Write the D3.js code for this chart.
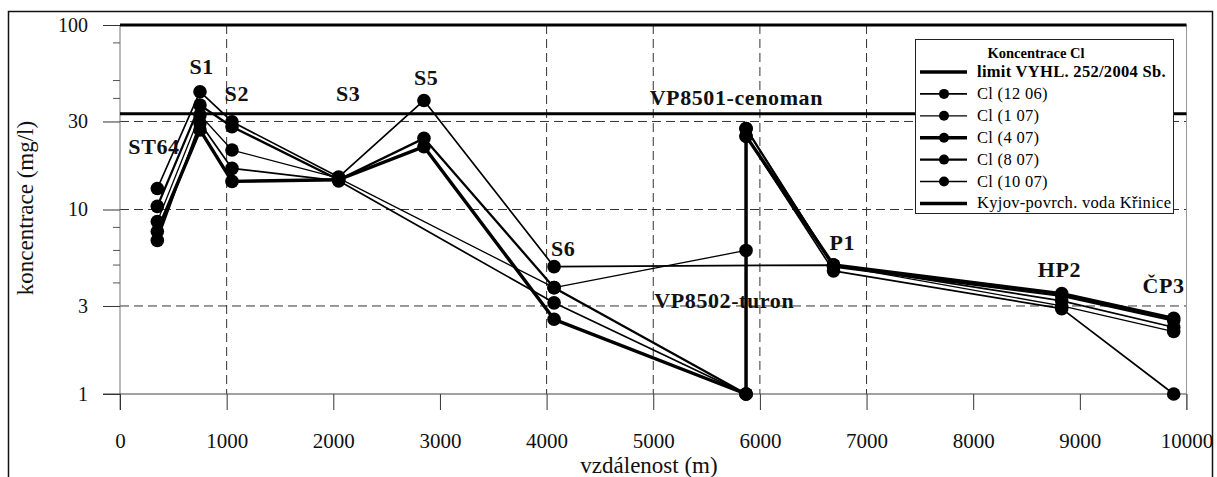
<!DOCTYPE html>
<html>
<head>
<meta charset="utf-8">
<script src="https://cdn.jsdelivr.net/npm/d3@7"></script>
<style>
  body { margin: 0; background: #fff; }
  svg { display: block; }
  svg text { font-family: "Liberation Serif", "Times New Roman", serif; }
</style>
</head>
<body>
<div id="chart"></div>
<script>
// sampling points along the profile
const stations = ['ST64', 'S1', 'S2', 'S3', 'S5', 'S6', 'VP8502-turon', 'VP8501-cenoman', 'P1', 'HP2', 'ČP3'];
const distances = [350, 750, 1050, 2050, 2850, 4070, 5870, 5870, 6690, 8830, 9880];

// Cl concentrations (mg/l), null = not sampled
const cl1206 = [13.0, 43.5, 29.9, 15.0, 39.0, 4.9, null, null, 5.0, 3.2, 2.3];
const cl0107 = [8.6, 32.5, 21.0, 14.8, null, 3.77, 6.0, 27.5, 5.0, 3.0, 2.18];
const cl0407 = [7.6, 27.0, 14.2, 14.5, 21.9, 2.54, 1.0, 25.0, 5.0, 3.5, 2.57];
const cl0807 = [10.4, 36.8, 28.1, 14.5, 24.3, 3.77, 1.0, 27.5, 4.9, 3.4, 2.5];
const cl1007 = [6.8, 29.4, 16.7, 14.3, null, 3.12, 1.0, 25.0, 4.65, 2.9, 1.0];

const seriesNames = ['Cl (12 06)', 'Cl (1 07)', 'Cl (4 07)', 'Cl (8 07)', 'Cl (10 07)'];
const seriesValues = [cl1206, cl0107, cl0407, cl0807, cl1007];

// reference levels
const limitVyhl = 100;
const kyjovKrinice = 33;

// axes
const xTicks = [0, 1000, 2000, 3000, 4000, 5000, 6000, 7000, 8000, 9000, 10000];
const xGrid = [1000, 4000, 5000, 6000, 7000];
const yTicks = [1, 3, 10, 30, 100];
const yMinorTicks = [4, 5, 6, 8, 40, 50, 80];
const yGrid = [3, 10, 30];

// station labels, anchored in data units
const labels = [
  { text: 'ST64', d: 319, v: 20.0 },
  { text: 'S1', d: 766, v: 54.2 },
  { text: 'S2', d: 1095, v: 38.7 },
  { text: 'S3', d: 2139, v: 38.7 },
  { text: 'S5', d: 2871, v: 47.3 },
  { text: 'VP8501-cenoman', d: 5779, v: 36.8 },
  { text: 'S6', d: 4156, v: 5.6 },
  { text: 'VP8502-turon', d: 5666, v: 2.92 },
  { text: 'P1', d: 6773, v: 6.03 },
  { text: 'HP2', d: 8809, v: 4.31 },
  { text: 'ČP3', d: 9784, v: 3.53 },
];

const width = 1217;
const height = 477;
const lineWidths = [1.7, 1.3, 3.4, 2.3, 1.7];

const svg = d3.select('#chart').append('svg')
  .attr('width', width)
  .attr('height', height);

const x = d3.scaleLinear().domain([0, 10000]).range([120, 1186.5]);
const y = d3.scaleLog().domain([1, 100]).range([394, 25]);

// outer frame
svg.append('rect')
  .attr('x', 8.5).attr('y', 11.5)
  .attr('width', 1204).attr('height', 500)
  .attr('fill', 'none')
  .attr('stroke', '#111')
  .attr('stroke-width', 1.5);

// grid
svg.append('g').selectAll('line')
  .data(yGrid)
  .join('line')
  .attr('x1', x(0)).attr('x2', x(10000))
  .attr('y1', (d) => y(d)).attr('y2', (d) => y(d))
  .attr('stroke', '#333')
  .attr('stroke-dasharray', '9,5');

svg.append('g').selectAll('line')
  .data(xGrid)
  .join('line')
  .attr('x1', (d) => x(d)).attr('x2', (d) => x(d))
  .attr('y1', y(100)).attr('y2', y(1))
  .attr('stroke', '#333')
  .attr('stroke-dasharray', '9,5');

// plot edges
svg.append('line')
  .attr('x1', x(0)).attr('x2', x(0))
  .attr('y1', y(100)).attr('y2', y(1) + 16)
  .attr('stroke', '#777');
svg.append('line')
  .attr('x1', x(10000)).attr('x2', x(10000))
  .attr('y1', y(100)).attr('y2', y(1) + 16)
  .attr('stroke', '#999');

// x axis
const xAxis = d3.axisBottom(x).tickValues(xTicks).tickSize(16).tickPadding(23).tickFormat(d3.format('d'));
const gx = svg.append('g')
  .attr('transform', `translate(0,${y(1)})`)
  .call(xAxis)
  .attr('font-family', null);
gx.select('.domain').remove();
gx.selectAll('line').attr('stroke', '#333');
gx.selectAll('text').attr('font-size', 21).attr('fill', '#111');

svg.append('line')
  .attr('x1', x(0) - 17).attr('x2', x(10000))
  .attr('y1', y(1)).attr('y2', y(1))
  .attr('stroke', '#444')
  .attr('stroke-width', 1.2);

// y axis
const yAxis = d3.axisLeft(y).tickValues(yTicks).tickSize(17).tickPadding(15).tickFormat(d3.format('d'));
const gy = svg.append('g')
  .attr('transform', `translate(${x(0)},0)`)
  .call(yAxis)
  .attr('font-family', null);
gy.select('.domain').remove();
gy.selectAll('line').attr('stroke', '#333');
gy.selectAll('text').attr('font-size', 20).attr('fill', '#111');

svg.append('g').selectAll('line')
  .data(yMinorTicks)
  .join('line')
  .attr('x1', x(0) - 7).attr('x2', x(0))
  .attr('y1', (d) => y(d)).attr('y2', (d) => y(d))
  .attr('stroke', '#555');

// axis titles
svg.append('text')
  .attr('x', 649).attr('y', 473)
  .attr('text-anchor', 'middle')
  .attr('font-size', 23)
  .attr('fill', '#111')
  .text('vzdálenost (m)');

svg.append('text')
  .attr('transform', 'translate(33,208) rotate(-90)')
  .attr('text-anchor', 'middle')
  .attr('font-size', 23)
  .attr('fill', '#111')
  .text('koncentrace (mg/l)');

// reference lines
[limitVyhl, kyjovKrinice].forEach((v) => {
  svg.append('line')
    .attr('x1', x(0)).attr('x2', x(10000))
    .attr('y1', y(v)).attr('y2', y(v))
    .attr('stroke', '#000')
    .attr('stroke-width', 3);
});

// series
const line = d3.line()
  .x((d) => x(d.d))
  .y((d) => y(d.v));

const series = seriesValues.map((vals, i) => ({
  name: seriesNames[i],
  width: lineWidths[i],
  points: vals.map((v, j) => ({ d: distances[j], v, station: stations[j] })).filter((p) => p.v !== null),
}));

const gs = svg.append('g');
series.forEach((s) => {
  gs.append('path')
    .attr('d', line(s.points))
    .attr('fill', 'none')
    .attr('stroke', '#000')
    .attr('stroke-width', s.width)
    .attr('stroke-linejoin', 'round');
});
series.forEach((s) => {
  gs.selectAll(null)
    .data(s.points)
    .join('circle')
    .attr('cx', (d) => x(d.d))
    .attr('cy', (d) => y(d.v))
    .attr('r', 6.8)
    .attr('fill', '#000');
});

// station labels
svg.append('g').selectAll('text')
  .data(labels)
  .join('text')
  .attr('x', (d) => x(d.d))
  .attr('y', (d) => y(d.v))
  .attr('text-anchor', 'middle')
  .attr('font-size', 22)
  .attr('font-weight', 'bold')
  .attr('letter-spacing', 0.6)
  .attr('fill', '#111')
  .text((d) => d.text);

// legend
const legend = svg.append('g');
legend.append('rect')
  .attr('x', 915.5).attr('y', 39.5)
  .attr('width', 258).attr('height', 174)
  .attr('fill', '#fff')
  .attr('stroke', '#222');

legend.append('text')
  .attr('x', 1036).attr('y', 58)
  .attr('text-anchor', 'middle')
  .attr('font-size', 14.5)
  .attr('font-weight', 'bold')
  .text('Koncentrace Cl');

const legendItems = [
  { name: 'limit VYHL. 252/2004 Sb.', width: 3.5, marker: false, bold: true },
  ...series.map((s) => ({ name: s.name, width: s.width, marker: true, bold: false })),
  { name: 'Kyjov-povrch. voda Křinice', width: 3.5, marker: false, bold: false },
];

const rows = legend.selectAll('g.row')
  .data(legendItems)
  .join('g')
  .attr('class', 'row')
  .attr('transform', (d, i) => `translate(0,${77 + i * 21.9})`);

rows.append('line')
  .attr('x1', 920).attr('x2', 967)
  .attr('y1', -5).attr('y2', -5)
  .attr('stroke', '#000')
  .attr('stroke-width', (d) => d.width);

rows.filter((d) => d.marker).append('circle')
  .attr('cx', 944).attr('cy', -5)
  .attr('r', 5)
  .attr('fill', '#000');

rows.append('text')
  .attr('x', 977).attr('y', 0)
  .attr('font-size', 16.5)
  .attr('letter-spacing', 0.3)
  .attr('font-weight', (d) => (d.bold ? 'bold' : 'normal'))
  .text((d) => d.name);
</script>
</body>
</html>
